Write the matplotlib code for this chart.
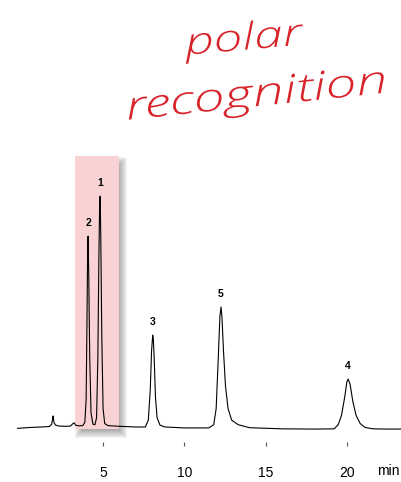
import matplotlib.pyplot as plt
import matplotlib.transforms as mtransforms
from matplotlib.patches import Rectangle, PathPatch
from matplotlib.textpath import TextPath
from matplotlib.font_manager import FontProperties

# Cromatograma digitalizado (tiempo en min, señal relativa: pico 1 = 100)
tiempo = [-0.25, 0.5, 1.2, 1.7, 1.84, 1.9, 1.93, 1.98, 2.08, 2.3, 2.7, 3.0, 3.12, 3.22, 3.32,
          3.5, 3.75, 3.88, 3.96, 4.01, 4.05, 4.08, 4.12, 4.18, 4.26, 4.38, 4.5, 4.6, 4.68,
          4.74, 4.79, 4.82, 4.86, 4.92, 5.0, 5.1, 5.3, 6.0, 7.0, 7.6, 7.78, 7.9, 7.98, 8.05,
          8.09, 8.14, 8.22, 8.32, 8.5, 8.8, 10.0, 11.5, 11.8, 11.95, 12.08, 12.18, 12.25,
          12.31, 12.4, 12.52, 12.68, 12.9, 13.3, 14.0, 16.0, 18.0, 19.2, 19.45, 19.65, 19.85,
          19.98, 20.06, 20.18, 20.35, 20.55, 20.8, 21.1, 21.6, 22.5, 23.4]
senal = [-0.6, -0.2, 0.0, 0.2, 1.2, 3.5, 4.8, 2.0, 0.8, 0.4, 0.3, 0.4, 1.3, 1.8, 0.8,
         0.5, 0.6, 2.0, 12.0, 45.0, 75.0, 82.7, 65.0, 30.0, 6.0, 1.2, 1.0, 4.0, 30.0,
         72.0, 97.0, 100.0, 82.0, 40.0, 8.0, 1.5, 0.6, 0.3, 0.0, 0.0, 3.0, 16.0, 33.0, 39.8,
         38.0, 30.0, 13.0, 4.0, 0.8, 0.0, -0.4, -0.4, 1.0, 8.0, 30.0, 48.0, 52.0,
         47.0, 33.0, 18.0, 8.0, 3.0, 1.0, -0.3, -0.8, -0.9, -0.8, 1.0, 5.0, 13.0,
         19.5, 20.8, 18.5, 11.0, 5.0, 1.5, -0.2, -0.8, -0.9, -0.9]

# Etiquetas de los picos
picos_t = [4.81, 4.08, 8.07, 20.06, 12.25]
picos_h = [100.0, 82.7, 39.8, 20.8, 52.0]
picos_nombre = ["1", "2", "3", "4", "5"]

zona_resaltada = (3.28, 5.98)
ticks_x = [5, 10, 15, 20]

ROJO = "#d8232a"
W, H = 402, 482

fig = plt.figure(figsize=(W / 100, H / 100), dpi=100)
ax = fig.add_axes([0, (H - 442) / H, 1, 442 / H])
ax.set_xlim(-1.334, 23.37)
ax.set_ylim(-6.5, 185.0)

# Zona resaltada con sombra difusa (pasos en pixeles convertidos a datos)
t0, t1 = zona_resaltada
y0, y1 = -0.9, 117.3
px_x, px_y = 1 / 16.27, 0.4329
for k in range(-4, 5):
    ax.add_patch(Rectangle((t0 + (4 - k) * px_x, y0 - (5 + k) * px_y),
                           t1 - t0 + 2 * k * px_x, y1 - y0 + 2 * k * px_y,
                           facecolor="#333333", alpha=0.055, edgecolor="none", zorder=1))
ax.add_patch(Rectangle((t0, y0), t1 - t0, y1 - y0, facecolor="#f9d3d3",
                       edgecolor="none", zorder=2))

ax.plot(tiempo, senal, color="black", lw=0.8, zorder=3)

for t, h, nombre in zip(picos_t, picos_h, picos_nombre):
    ax.text(t, h + 3.5, nombre, ha="center", va="bottom", fontsize=7.5,
            fontweight="bold", family="Liberation Sans", zorder=4)

ax.set_xticks(ticks_x)
ax.set_yticks([])
ax.tick_params(axis="x", direction="out", length=3, width=0.8, color="#555555",
               pad=14, labelsize=10)
for lab in ax.get_xticklabels():
    lab.set_family("Liberation Sans")
for s in ax.spines.values():
    s.set_visible(False)
ax.patch.set_visible(False)

fig.text(388 / W, 1 - 471 / H, "min", ha="center", va="center", fontsize=10,
         family="Liberation Sans")


def texto_manuscrito(texto, cx, cy, ancho, alto_x, rot):
    # texto estirado a lo ancho para imitar la letra a mano
    fp = FontProperties(family="Open Sans", style="italic", weight="light")
    tp = TextPath((0, 0), texto, size=10, prop=fp)
    ext = tp.get_extents()
    sx = ancho / ext.width
    sy = alto_x / 5.35
    tr = (mtransforms.Affine2D()
          .translate(-(ext.x0 + ext.width / 2), -2.6)
          .scale(sx, sy)
          .rotate_deg(rot)
          .translate(cx, H - cy))
    fig.patches.append(PathPatch(tp, transform=tr, facecolor=ROJO,
                                 edgecolor="none", figure=fig))


texto_manuscrito("polar", 244, 40, 120, 20, 5)
texto_manuscrito("recognition", 256, 96, 258, 21, 6)

fig.savefig("out.png", dpi=100)
